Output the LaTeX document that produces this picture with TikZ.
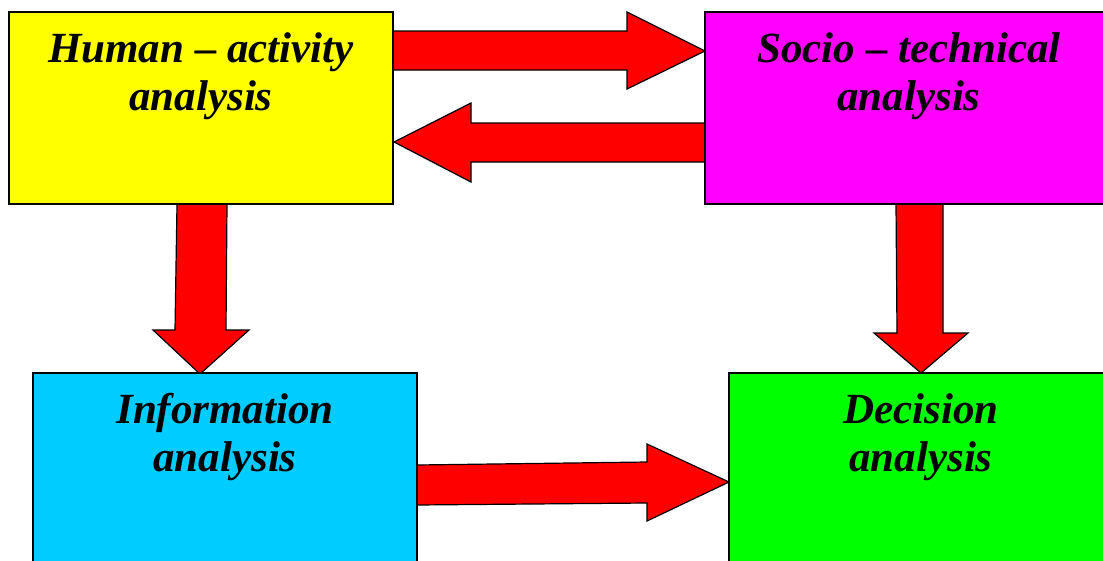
\documentclass[tikz,border=0pt]{standalone}
\usepackage{fontspec}
\setmainfont{Liberation Serif}
\usetikzlibrary{calc}
\definecolor{cyanbox}{HTML}{00CCFF}
\definecolor{yellowbox}{HTML}{FFFF00}
\definecolor{magentabox}{HTML}{FF00FF}
\definecolor{greenbox}{HTML}{00FF00}
\definecolor{redarrow}{HTML}{FF0000}
\tikzset{
  box/.style={draw=black, line width=1.5pt, anchor=north west, minimum height=192pt, inner sep=0pt, outer sep=0pt},
  boxtext/.style={anchor=base, inner sep=0pt, font=\fontsize{43}{48}\selectfont\bfseries\itshape},
  barrow/.style={draw=black, fill=redarrow, line width=1.2pt, line join=miter},
}
\begin{document}
\begin{tikzpicture}[x=1pt,y=-1pt]
\useasboundingbox (0,0) rectangle (1103,560);
\clip (0,0) rectangle (1103,560);
% boxes (coordinates for anchoring; drawn after arrows)
\path (9,12) node[box, minimum width=384pt] (ha) {};
\path (705,12) node[box, minimum width=408pt] (st) {};
\path (33,373) node[box, minimum width=384pt, minimum height=250pt] (ia) {};
\path (729,373) node[box, minimum width=384pt, minimum height=250pt] (da) {};
% arrows
\draw[barrow] ($(ha.north east)+(0,19)$) -- (627,31) -- (627,12)
  -- ($(st.north west)+(0,39)$) -- (627,89) -- (627,70)
  -- ($(ha.north east)+(0,58)$) -- cycle;
\draw[barrow] ($(st.north west)+(0,111)$) -- (471,123) -- (471,103)
  -- ($(ha.north east)+(1,130)$) -- (471,182) -- (471,162)
  -- ($(st.north west)+(0,150)$) -- cycle;
\draw[barrow] ($(ha.south west)+(168,0)$) -- ($(ha.south west)+(218,0)$)
  -- (226,330) -- (249,330) -- ($(ia.north west)+(167,1)$) -- (153,330) -- (175,330) -- cycle;
\draw[barrow] ($(st.south west)+(191,0)$) -- ($(st.south west)+(238,0)$)
  -- (943,333) -- (968,333) -- ($(da.north west)+(192,0)$) -- (874,333) -- (897,333) -- cycle;
\draw[barrow] ($(ia.north east)+(0,92)$) -- (647,462) -- (647,444)
  -- ($(da.north west)+(0,109)$) -- (647,521) -- (647,503)
  -- ($(ia.north east)+(0,132)$) -- cycle;
% box fills on top
\node[box, fill=yellowbox, minimum width=384pt] at (9,12) {};
\node[box, fill=magentabox, minimum width=408pt] at (705,12) {};
\node[box, fill=cyanbox, minimum width=384pt, minimum height=250pt] at (33,373) {};
\node[box, fill=greenbox, minimum width=384pt, minimum height=250pt] at (729,373) {};
% texts
\node[boxtext] (ha1) at ($(ha.north)+(0,50)$) {Human – activity};
\node[boxtext] (ha2) at ($(ha.north)+(0,98)$) {analysis};
\node[boxtext] (st1) at ($(st.north)+(0,50)$) {Socio – technical};
\node[boxtext] (st2) at ($(st.north)+(0,98)$) {analysis};
\node[boxtext] (ia1) at ($(ia.north)+(0,50)$) {Information};
\node[boxtext] (ia2) at ($(ia.north)+(0,98)$) {analysis};
\node[boxtext] (da1) at ($(da.north)+(0,50)$) {Decision};
\node[boxtext] (da2) at ($(da.north)+(0,98)$) {analysis};
\end{tikzpicture}
\end{document}
